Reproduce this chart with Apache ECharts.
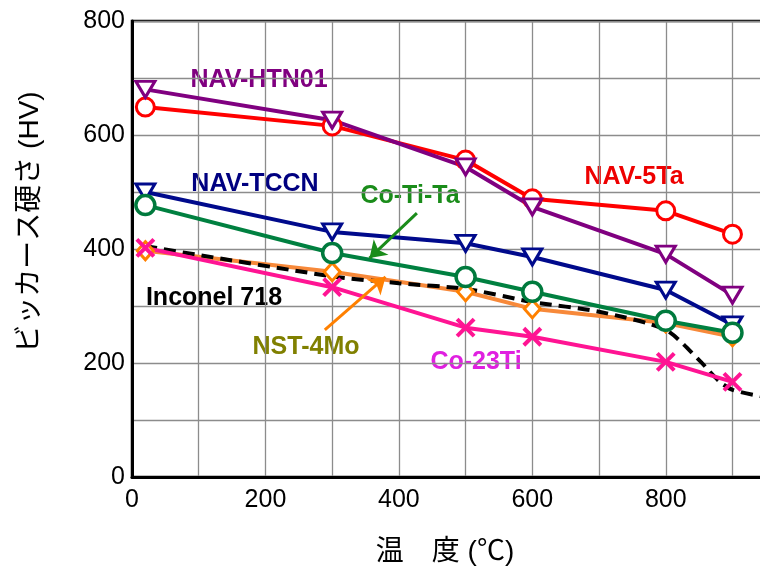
<!DOCTYPE html>
<html>
<head>
<meta charset="utf-8">
<script src="https://cdn.jsdelivr.net/npm/echarts@6/dist/echarts.min.js"></script>
<style>html,body{margin:0;padding:0;background:#fff;overflow:hidden;width:760px;height:571px}#c{width:830px;height:571px}</style>
</head>
<body>
<div id="c"></div>
<script>
// ---- data ----
var temps = [20, 300, 500, 600, 800, 900];
var navHtn01 = [680, 626, 544, 474, 391, 319];
var nav5Ta = [649, 616, 556, 488, 467, 426];
var navTccn = [500, 430, 410, 386, 328, 267];
var coTiTa = [477, 393, 351, 325, 274, 253];
var nst4Mo = [397, 360, 325, 295, 270, 246];
var co23Ti = [402, 333, 262, 246, 202, 167];
var inconelTemps = [20, 300, 400, 500, 600, 700, 800, 850, 880, 900, 950, 1000];
var inconelVals = [405, 352, 340, 330, 307, 290, 258, 205, 168, 153, 140, 133];
var xTicks = [0, 200, 400, 600, 800, 1000];
var yTicks = [0, 200, 400, 600, 800];
var seriesNames = ['NAV-HTN01', 'NAV-5Ta', 'NAV-TCCN', 'Co-Ti-Ta', 'NST-4Mo', 'Co-23Ti', 'Inconel 718'];
var xName = '温\u3000度 (℃)';
var yName = 'ビッカース硬さ (HV)';

function pairs(xs, ys) { return xs.map(function (x, i) { return [x, ys[i]]; }); }

var FONT = '"Liberation Sans", Arial, "Noto Sans CJK JP", sans-serif';
var crossPath = 'path://M0,0L10,10M10,0L0,10';

function mk(name, vals, color, symbol, size, opts) {
  var s = {
    name: name, type: 'line', data: pairs(temps, vals),
    symbol: symbol, symbolSize: size,
    lineStyle: { color: color, width: 4 },
    itemStyle: { color: '#fff', borderColor: color, borderWidth: 3 },
    emphasis: { disabled: true },
    animation: false
  };
  for (var k in opts) s[k] = opts[k];
  return s;
}

var LF = 'bold 25px ' + FONT;
function lbl(x, y, text, color) {
  return { type: 'text', x: x, y: y, style: { text: text, fill: color, font: LF, align: 'center', verticalAlign: 'middle', backgroundColor: '#fff', padding: [0, 2] } };
}

var chart = echarts.init(document.getElementById('c'), null, { renderer: 'canvas' });
chart.setOption({
  animation: false,
  grid: { left: 132, top: 21, right: 24, bottom: 94, show: true, borderColor: '#000', borderWidth: 2.5, containLabel: false },
  xAxis: {
    type: 'value', min: 0, max: 1000, interval: 100,
    axisLine: { show: true, lineStyle: { color: '#000', width: 3 } },
    axisTick: { show: false },
    splitLine: { show: true, lineStyle: { color: '#8c8c8c', width: 1.3 } },
    axisLabel: {
      margin: 11, fontSize: 25, color: '#000', fontFamily: FONT,
      formatter: function (v) { return xTicks.indexOf(v) >= 0 ? String(v) : ''; }
    }
  },
  yAxis: {
    type: 'value', min: 0, max: 800, interval: 100,
    axisLine: { show: true, lineStyle: { color: '#000', width: 3 } },
    axisTick: { show: false },
    splitLine: { show: true, lineStyle: { color: '#8c8c8c', width: 1.3 } },
    axisLabel: {
      margin: 7, fontSize: 25, color: '#000', fontFamily: FONT,
      formatter: function (v) { return yTicks.indexOf(v) >= 0 ? String(v) : ''; }
    }
  },
  series: [
    mk(seriesNames[4], nst4Mo, '#f7893a', 'diamond', [16, 18], { itemStyle: { color: '#fff', borderColor: '#ff8000', borderWidth: 3 },
      markLine: { silent: true, animation: false, symbolSize: 16, label: { show: false },
        lineStyle: { color: '#ff8000', width: 3, type: 'solid' },
        data: [[{ coord: [289, 258], symbol: 'none' }, { coord: [380, 351], symbol: 'arrow' }]] } }),
    { name: seriesNames[6], type: 'line', data: pairs(inconelTemps, inconelVals), symbol: 'none', smooth: 0.25,
      lineStyle: { color: '#000', width: 4, type: [12, 7] }, emphasis: { disabled: true }, animation: false },
    mk(seriesNames[5], co23Ti, '#ff1493', crossPath, 17, { itemStyle: { color: 'none', borderColor: '#ff1493', borderWidth: 4 } }),
    mk(seriesNames[2], navTccn, '#000a8c', 'triangle', [19, 16], { symbolRotate: 180 }),
    mk(seriesNames[3], coTiTa, '#008040', 'circle', 19, { itemStyle: { color: '#fff', borderColor: '#007a3d', borderWidth: 3.5 },
      markLine: { silent: true, animation: false, symbolSize: 16, label: { show: false },
        lineStyle: { color: '#1a8c1a', width: 3, type: 'solid' },
        data: [[{ coord: [427, 463], symbol: 'none' }, { coord: [356, 384], symbol: 'arrow' }]] } }),
    mk(seriesNames[1], nav5Ta, '#ff0000', 'circle', 18, {}),
    mk(seriesNames[0], navHtn01, '#800080', 'triangle', [19, 16], { symbolRotate: 180 })
  ],
  graphic: [
    lbl(259, 80, seriesNames[0], '#800080'),
    lbl(255, 184, seriesNames[2], '#000080'),
    lbl(410, 196, seriesNames[3], '#1a8c1a'),
    lbl(634, 177, seriesNames[1], '#ee0000'),
    lbl(214, 298, seriesNames[6], '#000'),
    lbl(306, 347, seriesNames[4], '#808000'),
    lbl(476, 362, seriesNames[5], '#e020e0'),
    { type: 'text', x: 445, y: 552, style: { text: xName, fill: '#000', font: '28px ' + FONT, align: 'center', verticalAlign: 'middle' } },
    { type: 'text', x: 30, y: 222, rotation: Math.PI / 2, style: { text: yName, fill: '#000', font: '28px ' + FONT, align: 'center', verticalAlign: 'middle' } }
  ]
});
</script>
</body>
</html>
